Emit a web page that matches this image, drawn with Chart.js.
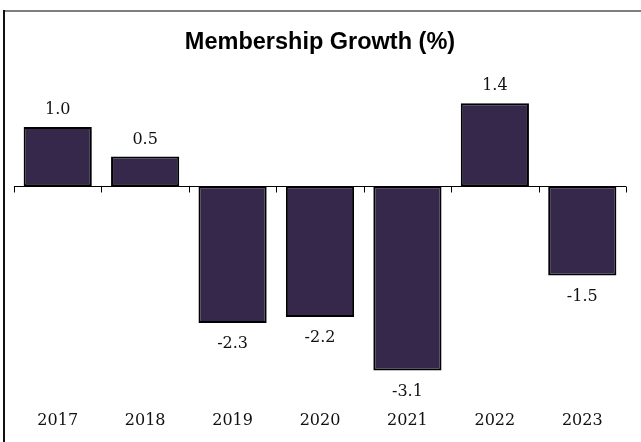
<!DOCTYPE html>
<html>
<head>
<meta charset="utf-8">
<script src="https://cdn.jsdelivr.net/npm/chart.js@4"></script>
<style>
  html, body { margin: 0; padding: 0; background: #fff; }
</style>
</head>
<body>
<canvas id="myChart" width="641" height="442"></canvas>
<script>
var years = ['2017', '2018', '2019', '2020', '2021', '2022', '2023'];
var growth = [1.0, 0.5, -2.3, -2.2, -3.1, 1.4, -1.5];

// outer frame: grey top edge, dark left edge
var frame = {
    id: 'frame',
    afterDraw: function(chart) {
        var c = chart.ctx;
        c.save();
        c.fillStyle = '#7f7f7f';
        c.fillRect(3, 10, chart.width - 3, 2);
        c.fillStyle = '#111111';
        c.fillRect(3, 10, 2, chart.height - 10);
        c.restore();
    }
};

// zero line with small ticks between categories
var zeroAxis = {
    id: 'zeroAxis',
    beforeDatasetsDraw: function(chart) {
        var c = chart.ctx;
        var x = chart.scales.x;
        var y0 = Math.round(chart.scales.y.getPixelForValue(0)) + 0.5;
        var step = (x.right - x.left) / years.length;
        c.save();
        c.strokeStyle = '#000';
        c.lineWidth = 1;
        c.beginPath();
        c.moveTo(x.left, y0);
        c.lineTo(x.right, y0);
        for (var i = 0; i <= years.length; i++) {
            var tx = Math.round(x.left + i * step) + 0.5;
            c.moveTo(tx, y0);
            c.lineTo(tx, y0 + 6);
        }
        c.stroke();
        c.restore();
    }
};

// value labels above positive bars, below negative ones
var valueLabels = {
    id: 'valueLabels',
    afterDatasetsDraw: function(chart) {
        var c = chart.ctx;
        var meta = chart.getDatasetMeta(0);
        c.save();
        c.font = '16px "DejaVu Serif"';
        c.fillStyle = '#111';
        c.textAlign = 'center';
        c.textBaseline = 'middle';
        meta.data.forEach(function(bar, i) {
            var v = growth[i];
            var ly = v >= 0 ? bar.y - 17 : bar.y + 21;
            c.fillText(v.toFixed(1), bar.x, ly);
        });
        c.restore();
    }
};

var ctx = document.getElementById('myChart').getContext('2d');
var myChart = new Chart(ctx, {
    type: 'bar',
    data: {
        labels: years,
        datasets: [{
            label: 'Membership Growth (%)',
            data: growth,
            backgroundColor: '#36284a',
            borderColor: '#000',
            borderWidth: 2,
            borderSkipped: false,
            categoryPercentage: 1,
            barPercentage: 0.78
        }]
    },
    options: {
        responsive: false,
        animation: false,
        layout: {
            padding: { left: 14, right: 15, top: 0, bottom: 15 }
        },
        plugins: {
            legend: { display: false },
            tooltip: { enabled: false },
            title: {
                display: true,
                text: 'Membership Growth (%)',
                color: '#000',
                font: { family: '"Liberation Sans", Arial, sans-serif', size: 23.5, weight: 'bold' },
                padding: { top: 28, bottom: 44 }
            }
        },
        scales: {
            x: {
                offset: true,
                grid: { display: false, drawTicks: false, tickLength: 0 },
                border: { display: false },
                ticks: {
                    color: '#111',
                    padding: 18,
                    font: { family: '"DejaVu Serif", serif', size: 16 }
                },
                afterFit: function(scale) {
                    scale.height = 34;
                }
            },
            y: {
                display: false,
                min: -3.48,
                max: 1.45
            }
        }
    },
    plugins: [frame, zeroAxis, valueLabels]
});
</script>
</body>
</html>
